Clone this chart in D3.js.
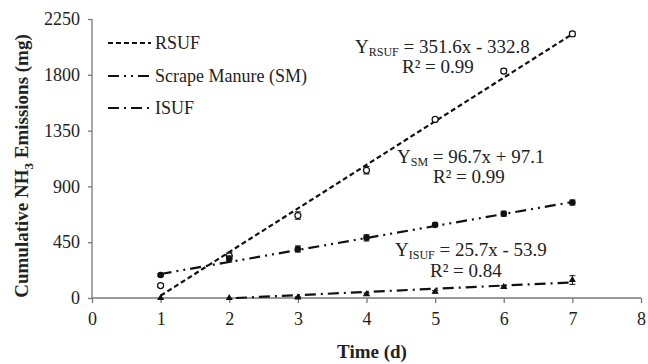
<!DOCTYPE html>
<html>
<head>
<meta charset="utf-8">
<script src="https://cdn.jsdelivr.net/npm/d3@7"></script>
<style>
  body { margin: 0; background: #fff; }
</style>
</head>
<body>
<div id="chart"></div>
<script>
var days = [1, 2, 3, 4, 5, 6, 7];
var rsuf = [100, 340, 665, 1030, 1440, 1830, 2130];
var rsufErr = [15, 25, 30, 30, 15, 20, 20];
var sm = [185, 315, 395, 485, 590, 680, 770];
var smErr = [10, 25, 25, 25, 15, 20, 20];
var isuf = [0, 0, 5, 30, 50, 90, 145];
var isufErr = [0, 0, 5, 10, 10, 10, 35];

var seriesNames = ["RSUF", "Scrape Manure (SM)", "ISUF"];
var slopes = [351.6, 96.7, 25.7];
var intercepts = [-332.8, 97.1, -53.9];
var eqSubs = ["RSUF", "SM", "ISUF"];
var eqRest = ["= 351.6x - 332.8", "= 96.7x + 97.1", "= 25.7x - 53.9"];
var rSquared = ["0.99", "0.99", "0.84"];

var xTicks = [0, 1, 2, 3, 4, 5, 6, 7, 8];
var yTicks = [0, 450, 900, 1350, 1800, 2250];

var serif = "Liberation Serif";

function init(){
    var w = 648, h = 364;
    var svg = d3.select("#chart").append("svg")
                .attr("width", w).attr("height", h)
                .style("display", "block");

    var x = d3.scaleLinear().domain([0, 8]).range([92, 641]);
    var y = d3.scaleLinear().domain([0, 2250]).range([298, 19]);

    var dashes = ["5,3", "11,5,2,5,2,5", "11,5,2,5"];

    // axes
    var xAxis = svg.append("g")
        .attr("transform", "translate(0," + y(0) + ")")
        .call(d3.axisBottom(x).tickValues(xTicks).tickFormat(d3.format("d")).tickSize(5).tickPadding(9));
    var yAxis = svg.append("g")
        .attr("transform", "translate(" + x(0) + ",0)")
        .call(d3.axisLeft(y).tickValues(yTicks).tickFormat(d3.format("d")).tickSize(4).tickPadding(8));

    [xAxis, yAxis].forEach(function(a){
        a.attr("font-family", serif).attr("font-size", 18);
        a.select(".domain").attr("stroke", "#777").attr("stroke-width", 1.3);
        a.selectAll(".tick line").attr("stroke", "#777").attr("stroke-width", 1.3);
        a.selectAll(".tick text").attr("fill", "#222");
    });
    yAxis.select(".domain").attr("d", "M0," + y(2250) + "V" + y(0));
    xAxis.select(".domain").attr("d", "M" + x(0) + ",0H" + x(8));

    // axis titles
    svg.append("text")
        .attr("x", 372).attr("y", 358)
        .attr("text-anchor", "middle")
        .attr("font-family", serif)
        .style("font-size", "19px").style("font-weight", "bold")
        .attr("fill", "#222")
        .text("Time (d)");

    var yt = svg.append("text")
        .attr("transform", "translate(28,166) rotate(-90)")
        .attr("text-anchor", "middle")
        .attr("font-family", serif)
        .style("font-size", "19px").style("font-weight", "bold")
        .attr("fill", "#222");
    yt.append("tspan").text("Cumulative NH");
    yt.append("tspan").attr("dy", 5).style("font-size", "13px").text("3");
    yt.append("tspan").attr("dy", -5).text(" Emissions (mg)");

    // trendlines
    slopes.forEach(function(m, i){
        var b = intercepts[i];
        var x0 = Math.max(1, -b / m);
        svg.append("line")
            .attr("x1", x(x0)).attr("y1", y(m * x0 + b))
            .attr("x2", x(7)).attr("y2", y(m * 7 + b))
            .attr("stroke", "#111")
            .attr("stroke-width", 2.2)
            .attr("stroke-dasharray", dashes[i]);
    });

    // points + error bars
    var all = [rsuf, sm, isuf];
    var errs = [rsufErr, smErr, isufErr];
    all.forEach(function(vals, s){
        var g = svg.append("g");
        vals.forEach(function(v, i){
            var e = errs[s][i];
            if (e > 0) {
                g.append("line")
                    .attr("x1", x(days[i])).attr("x2", x(days[i]))
                    .attr("y1", y(v + e)).attr("y2", y(v - e))
                    .attr("stroke", "#111").attr("stroke-width", 1);
                [v + e, v - e].forEach(function(t){
                    g.append("line")
                        .attr("x1", x(days[i]) - 3).attr("x2", x(days[i]) + 3)
                        .attr("y1", y(t)).attr("y2", y(t))
                        .attr("stroke", "#111").attr("stroke-width", 1);
                });
            }
            if (s == 0) {
                g.append("circle")
                    .attr("cx", x(days[i])).attr("cy", y(v)).attr("r", 3)
                    .attr("fill", "white").attr("stroke", "#111").attr("stroke-width", 1.2);
            } else if (s == 1) {
                g.append("circle")
                    .attr("cx", x(days[i])).attr("cy", y(v)).attr("r", 3.3)
                    .attr("fill", "#111");
            } else {
                g.append("path")
                    .attr("transform", "translate(" + x(days[i]) + "," + y(v) + ")")
                    .attr("d", d3.symbol(d3.symbolTriangle, 22))
                    .attr("fill", "#111");
            }
        });
    });

    // legend
    var legY = [43, 76, 108];
    seriesNames.forEach(function(name, i){
        svg.append("line")
            .attr("x1", 108).attr("x2", 151)
            .attr("y1", legY[i]).attr("y2", legY[i])
            .attr("stroke", "#111").attr("stroke-width", 2.2)
            .attr("stroke-dasharray", dashes[i]);
        svg.append("text")
            .attr("x", 155).attr("y", legY[i] + 6)
            .attr("font-family", serif)
            .style("font-size", "18px")
            .attr("fill", "#222")
            .text(name);
    });

    // equations
    var eqPos = [[355, 53], [397, 163], [395, 256]];
    var r2Pos = [[402, 73], [433, 183], [430, 277]];
    eqSubs.forEach(function(sub, i){
        var t = svg.append("text")
            .attr("x", eqPos[i][0]).attr("y", eqPos[i][1])
            .attr("font-family", serif)
            .style("font-size", "19px").attr("fill", "#222");
        t.append("tspan").text("Y");
        t.append("tspan").attr("dy", 3).style("font-size", "12px").text(sub);
        t.append("tspan").attr("dy", -3).text(" " + eqRest[i]);

        svg.append("text")
            .attr("x", r2Pos[i][0]).attr("y", r2Pos[i][1])
            .attr("font-family", serif)
            .style("font-size", "19px").attr("fill", "#222")
            .text("R² = " + rSquared[i]);
    });
}

window.onload = init;
</script>
</body>
</html>
